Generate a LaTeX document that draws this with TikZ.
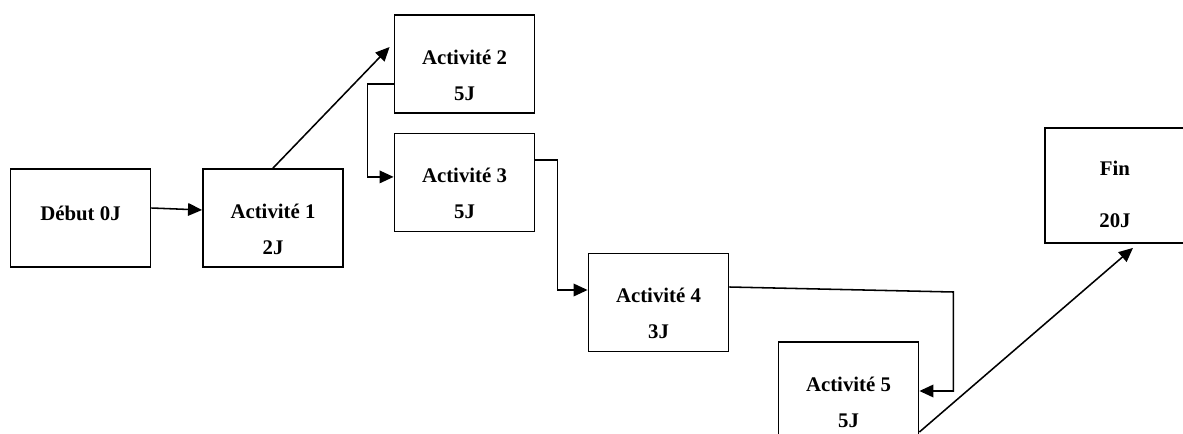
\documentclass[tikz,border=0pt]{standalone}
\usepackage{fontspec}
\setmainfont{Liberation Serif}
\usetikzlibrary{arrows.meta}

\tikzset{
  box/.style={draw, line width=1.3pt, minimum width=3.5cm, minimum height=2.45cm},
  txt/.style={font=\bfseries\fontsize{14.8}{25.6}\selectfont, align=center, inner sep=0pt},
  link/.style={line width=1.1pt, -{Triangle[length=10pt,width=9pt]}},
}

\begin{document}
\begin{tikzpicture}
    \useasboundingbox (0,0) rectangle (29.575,-10.85);
    \clip (0,0) rectangle (29.575,-10.85);

    % start and end
    \node [box] (debut) at (2.0125,-5.45) {};
    \node [txt] (debutt) at ([yshift=0.125cm]debut.center) {Début 0J};

    \node [box, minimum height=2.875cm] (fin) at (27.875,-4.6375) {};
    \node [txt] (fint) at ([yshift=-0.2125cm]fin.center) {Fin\\[11.4pt]20J};

    % activities
    \foreach \n/\x/\y/\j in {1/6.825/-5.45/2J, 2/11.6125/-1.6/5J, 3/11.6125/-4.5625/5J,
                             4/16.4625/-7.5625/3J, 5/21.2125/-9.775/5J} {
        \node [box] (act\n) at (\x,\y) {};
        \node [txt] (act\n t) at ([yshift=-0.275cm]act\n.center) {Activité \n\\\j};
    }

    % links
    \draw [link] ([yshift=0.25cm]debut.east) -- ([yshift=0.2cm]act1.west);
    \draw [link] (act1.north) -- ([xshift=-0.1cm,yshift=0.425cm]act2.west);
    \draw [link] ([yshift=-0.5cm]act2.west) -- ++(-0.65,0) |- ([yshift=0.14cm]act3.west);
    \draw [link] ([yshift=0.5625cm]act3.east) -- ++(0.55,0) |- ([yshift=0.3125cm]act4.west);
    \draw [link] ([yshift=0.3875cm]act4.east) -- ++(5.6,-0.125) |- (act5.east);
    \draw [link] ([yshift=-1.025cm]act5.east) -- ([xshift=0.45cm,yshift=-0.1cm]fin.south);

\end{tikzpicture}
\end{document}
